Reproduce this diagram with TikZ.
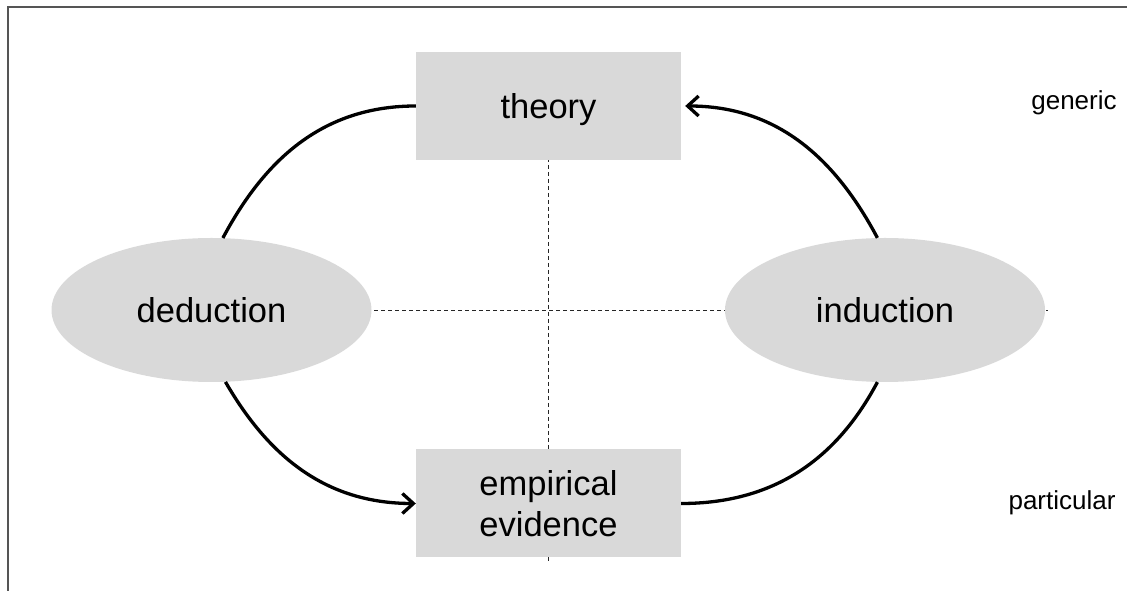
\documentclass[tikz,border=0pt]{standalone}
\usepackage{fontspec}
\setmainfont{Liberation Sans}
\usetikzlibrary{arrows.meta,shapes.geometric}

\definecolor{shapefill}{RGB}{217,217,217}
\definecolor{framegray}{RGB}{85,85,85}

\begin{document}
\begin{tikzpicture}[x=1pt,y=1pt,
  bigtext/.style={font=\fontsize{34.5}{41}\selectfont, text=black},
  stagebox/.style={rectangle, fill=shapefill, minimum width=265pt, minimum height=108pt, inner sep=0pt, bigtext},
  modeoval/.style={ellipse, fill=shapefill, minimum width=320pt, minimum height=144pt, inner sep=0pt, bigtext},
  oneline/.style={text height=26pt, text depth=0pt},
  levellabel/.style={font=\fontsize{26}{30}\selectfont, text=black, anchor=base, inner sep=0pt},
  guide/.style={draw=black!85, line width=1pt, dash pattern=on 4pt off 3pt},
  cycle/.style={draw=black, line width=3.3pt},
  cyclearrow/.style={cycle, -{Straight Barb[length=11pt,width=20pt]}}
]
\useasboundingbox (0,0) rectangle (1127,591);

% frame (top and left edges only)
\coordinate (frameTL) at (8,584);
\coordinate (frameTR) at (1127,584);
\coordinate (frameBL) at (8,0);
\draw[framegray, line width=2pt] (frameBL) -- (frameTL) -- (frameTR);

% guide cross
\coordinate (vtop) at (548,440);
\coordinate (vbot) at (548,28);
\coordinate (hleft) at (360,280);
\coordinate (hright) at (1048,280);
\draw[guide] (vtop) -- (vbot);
\draw[guide] (hleft) -- (hright);

% stages and modes of reasoning
\node[stagebox, oneline] (theory) at (548.5,485) {theory};
\node[stagebox, align=center] (evidence) at (548.5,87.5) {empirical\\evidence};
\node[modeoval, oneline] (deduction) at (211.5,281) {deduction};
\node[modeoval, oneline] (induction) at (885,281) {induction};

% level labels
\node[levellabel] (generic) at (1074,481) {generic};
\node[levellabel] (particular) at (1062,81) {particular};

% reasoning cycle
\draw[cycle] (theory.west) to[out=180, in=62] (deduction.81);
\draw[cyclearrow] (deduction.-79) to[out=-60, in=180] (evidence.west);
\draw[cycle] (evidence.east) to[out=0, in=-118] (induction.-96);
\draw[cyclearrow] (induction.96) to[out=118, in=0] ([xshift=4pt]theory.east);
\end{tikzpicture}
\end{document}
